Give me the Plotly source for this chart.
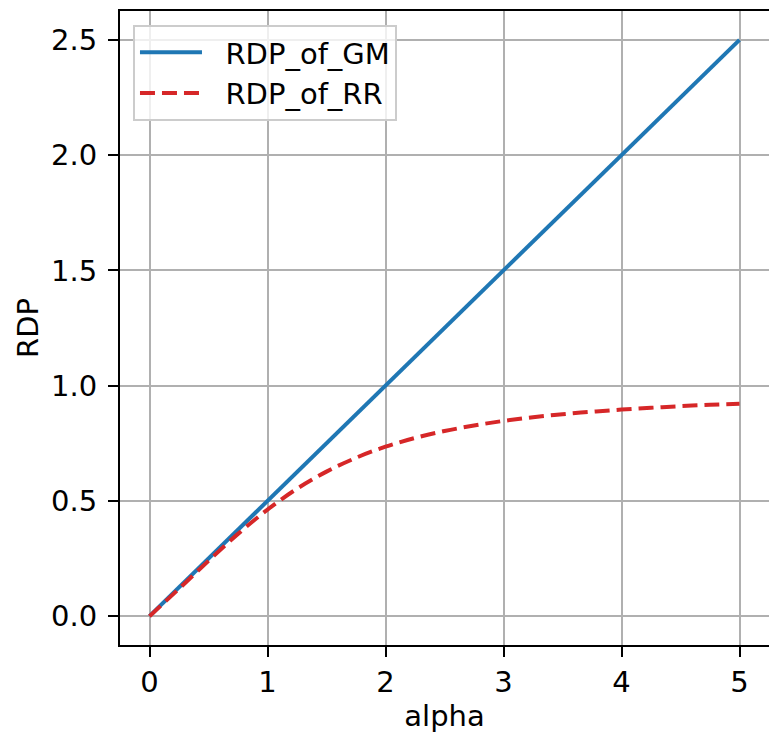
import plotly.graph_objects as go

alpha = [0, 0.25, 0.5, 0.75, 1.0, 1.25, 1.5, 1.75, 2.0, 2.25, 2.5,
         2.75, 3.0, 3.25, 3.5, 3.75, 4.0, 4.25, 4.5, 4.75, 5.0]
rdp_gm = [0.0, 0.125, 0.25, 0.375, 0.5, 0.625, 0.75, 0.875, 1.0, 1.125, 1.25,
          1.375, 1.5, 1.625, 1.75, 1.875, 2.0, 2.125, 2.25, 2.375, 2.5]
rdp_rr = [0.0, 0.119, 0.240, 0.357, 0.462, 0.553, 0.627, 0.687, 0.735, 0.773, 0.803,
          0.827, 0.847, 0.863, 0.876, 0.887, 0.896, 0.904, 0.911, 0.917, 0.921]
x_ticks = [0, 1, 2, 3, 4, 5]
y_ticks = [0.0, 0.5, 1.0, 1.5, 2.0, 2.5]
series_names = ["RDP_of_GM", "RDP_of_RR"]

FONT = "DejaVu Sans"
FS = 29
PAD = "\u00a0\u00a0"

fig = go.Figure()
fig.add_trace(go.Scatter(x=alpha, y=rdp_gm, mode="lines", name=PAD + series_names[0],
                         line=dict(color="#1f77b4", width=4)))
fig.add_trace(go.Scatter(x=alpha, y=rdp_rr, mode="lines", name=PAD + series_names[1],
                         line=dict(color="#d62728", width=4, dash="15px,7px", shape="spline")))

fig.update_layout(
    width=769, height=733,
    margin=dict(l=120, r=0, t=11, b=88),
    paper_bgcolor="white", plot_bgcolor="white",
    font=dict(family=FONT, size=FS, color="black"),
    showlegend=True,
    legend=dict(x=0.02, y=0.978, xanchor="left", yanchor="top",
                itemwidth=62,
                bgcolor="rgba(255,255,255,0.8)", bordercolor="#cccccc", borderwidth=2,
                font=dict(family=FONT, size=FS, color="black")),
)
fig.update_xaxes(
    range=[-0.25, 5.25], tickvals=x_ticks, ticktext=[str(v) for v in x_ticks],
    showgrid=True, gridcolor="#b0b0b0", gridwidth=2, zeroline=False,
    showline=True, linecolor="black", linewidth=2, mirror=True,
    ticks="outside", ticklen=10, tickwidth=2, tickcolor="black",
    title=dict(text="alpha", standoff=14, font=dict(family=FONT, size=FS)),
    automargin=False,
)
fig.update_yaxes(
    range=[-0.125, 2.625], tickvals=y_ticks, ticktext=[f"{v:.1f}" for v in y_ticks],
    showgrid=True, gridcolor="#b0b0b0", gridwidth=2, zeroline=False,
    showline=True, linecolor="black", linewidth=2, mirror=False,
    ticks="outside", ticklen=10, tickwidth=2, tickcolor="black",
    ticklabelstandoff=5,
    title=dict(text="RDP", standoff=4, font=dict(family=FONT, size=FS)),
    automargin=False,
)

fig.write_html("out.html")
